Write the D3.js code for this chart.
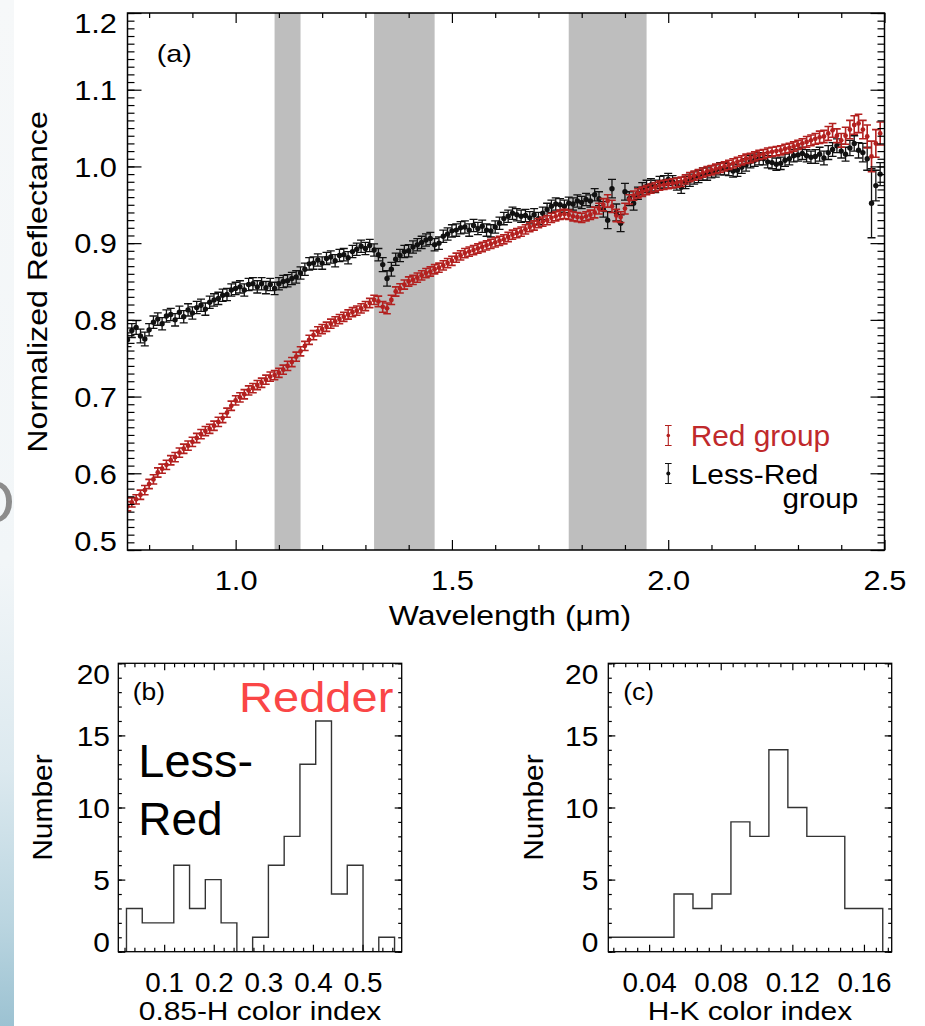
<!DOCTYPE html>
<html><head><meta charset="utf-8">
<script src="https://cdn.jsdelivr.net/npm/d3@7"></script>
<style>body{margin:0;background:#fff} svg{display:block;background:#fff}</style>
</head><body><svg id="c" width="925" height="1026"></svg>
<script>
// ---------- DATA ----------
const wavelength = [
0.75,0.76,0.77,0.78,0.79,
0.80,0.81,0.82,0.83,0.84,0.85,0.86,0.87,0.88,0.89,
0.90,0.91,0.92,0.93,0.94,0.95,0.96,0.97,0.98,0.99,
1.00,1.01,1.02,1.03,1.04,1.05,1.06,1.07,1.08,1.09,
1.10,1.11,1.12,1.13,1.14,1.15,1.16,1.17,1.18,1.19,
1.20,1.21,1.22,1.23,1.24,1.25,1.26,1.27,1.28,1.29,
1.30,1.31,1.32,1.33,1.34,1.35,1.36,1.37,1.38,1.39,
1.40,1.41,1.42,1.43,1.44,1.45,1.46,1.47,1.48,1.49,
1.50,1.51,1.52,1.53,1.54,1.55,1.56,1.57,1.58,1.59,
1.60,1.61,1.62,1.63,1.64,1.65,1.66,1.67,1.68,1.69,
1.70,1.71,1.72,1.73,1.74,1.75,1.76,1.77,1.78,1.79,
1.80,1.81,1.82,1.83,1.84,1.85,1.86,1.87,1.88,1.89,
1.90,1.91,1.92,1.93,1.94,1.95,1.96,1.97,1.98,1.99,
2.00,2.01,2.02,2.03,2.04,2.05,2.06,2.07,2.08,2.09,
2.10,2.11,2.12,2.13,2.14,2.15,2.16,2.17,2.18,2.19,
2.20,2.21,2.22,2.23,2.24,2.25,2.26,2.27,2.28,2.29,
2.30,2.31,2.32,2.33,2.34,2.35,2.36,2.37,2.38,2.39,
2.40,2.41,2.42,2.43,2.44,2.45,2.46,2.47,2.48,2.49];

const redGroup = [
0.557,0.562,0.566,0.572,0.578,
0.586,0.592,0.601,0.606,0.611,0.617,0.621,0.627,0.632,0.636,
0.641,0.646,0.651,0.655,0.658,0.662,0.667,0.672,0.679,0.688,
0.695,0.699,0.703,0.708,0.711,0.715,0.718,0.722,0.726,0.728,
0.731,0.735,0.740,0.745,0.752,0.759,0.766,0.774,0.780,0.785,
0.788,0.791,0.795,0.798,0.801,0.804,0.807,0.810,0.812,0.815,
0.818,0.822,0.826,0.824,0.817,0.815,0.826,0.837,0.841,0.846,
0.850,0.852,0.855,0.858,0.861,0.863,0.866,0.868,0.871,0.874,
0.877,0.881,0.884,0.887,0.889,0.891,0.893,0.895,0.897,0.899,
0.901,0.903,0.905,0.908,0.911,0.913,0.915,0.918,0.921,0.923,
0.926,0.928,0.930,0.933,0.935,0.937,0.938,0.937,0.935,0.934,
0.933,0.935,0.937,0.940,0.945,0.950,0.955,0.948,0.936,0.934,
0.945,0.957,0.962,0.965,0.967,0.969,0.971,0.973,0.975,0.976,
0.977,0.978,0.979,0.980,0.983,0.986,0.988,0.990,0.992,0.994,
0.995,0.997,0.998,1.000,1.002,1.004,1.006,1.008,1.010,1.011,
1.013,1.015,1.016,1.018,1.019,1.020,1.021,1.023,1.024,1.026,
1.028,1.030,1.032,1.034,1.036,1.038,1.039,1.043,1.047,1.040,
1.034,1.040,1.048,1.054,1.056,1.048,1.039,1.013,1.030,1.043];

const redErr = [
0.006,0.006,0.006,0.006,0.006,
0.006,0.006,0.006,0.006,0.006,0.006,0.006,0.006,0.006,0.006,
0.006,0.006,0.006,0.006,0.006,0.006,0.006,0.006,0.006,0.006,
0.006,0.006,0.006,0.006,0.006,0.006,0.006,0.006,0.006,0.006,
0.006,0.006,0.006,0.006,0.006,0.006,0.006,0.006,0.006,0.006,
0.006,0.006,0.006,0.006,0.006,0.006,0.006,0.006,0.006,0.006,
0.006,0.006,0.006,0.007,0.007,0.007,0.006,0.006,0.006,0.006,
0.006,0.006,0.006,0.006,0.006,0.006,0.006,0.006,0.006,0.006,
0.006,0.006,0.006,0.006,0.006,0.006,0.006,0.006,0.006,0.006,
0.006,0.006,0.006,0.006,0.006,0.006,0.006,0.006,0.006,0.006,
0.006,0.006,0.006,0.006,0.006,0.006,0.006,0.006,0.006,0.006,
0.006,0.006,0.006,0.007,0.007,0.008,0.008,0.008,0.008,0.007,
0.007,0.006,0.006,0.006,0.006,0.006,0.006,0.006,0.006,0.006,
0.006,0.006,0.006,0.006,0.006,0.006,0.006,0.006,0.006,0.006,
0.006,0.006,0.006,0.006,0.006,0.006,0.006,0.006,0.006,0.006,
0.006,0.006,0.006,0.006,0.006,0.006,0.006,0.006,0.006,0.006,
0.006,0.006,0.007,0.007,0.007,0.008,0.008,0.009,0.009,0.009,
0.009,0.011,0.012,0.012,0.012,0.012,0.015,0.020,0.018,0.015];

const lessRedGroup = [
0.774,0.786,0.790,0.779,0.775,
0.787,0.797,0.801,0.795,0.805,0.807,0.800,0.810,0.804,0.813,
0.809,0.816,0.819,0.814,0.823,0.826,0.828,0.832,0.833,0.839,
0.841,0.843,0.839,0.846,0.847,0.843,0.847,0.842,0.846,0.841,
0.847,0.850,0.851,0.854,0.856,0.861,0.866,0.873,0.874,0.878,
0.874,0.880,0.882,0.877,0.884,0.885,0.881,0.889,0.892,0.896,
0.893,0.897,0.891,0.885,0.872,0.854,0.866,0.879,0.884,0.889,
0.890,0.895,0.898,0.901,0.904,0.906,0.898,0.900,0.909,0.912,
0.916,0.917,0.920,0.921,0.917,0.923,0.919,0.922,0.917,0.916,
0.921,0.926,0.932,0.935,0.939,0.937,0.935,0.936,0.933,0.937,
0.932,0.939,0.944,0.948,0.951,0.950,0.948,0.952,0.951,0.955,
0.953,0.957,0.955,0.963,0.958,0.944,0.930,0.971,0.940,0.926,
0.967,0.958,0.952,0.965,0.971,0.974,0.976,0.974,0.979,0.980,
0.983,0.980,0.977,0.973,0.979,0.982,0.985,0.987,0.990,0.990,
0.993,0.994,0.997,0.997,0.996,0.994,0.995,0.999,1.002,1.006,
1.008,1.010,1.010,1.006,1.005,1.003,1.004,1.008,1.010,1.014,
1.015,1.017,1.014,1.012,1.013,1.016,1.011,1.018,1.022,1.027,
1.020,1.016,1.024,1.030,1.021,1.018,1.010,0.952,0.975,0.990];

const lessRedErr = [
0.009,0.009,0.009,0.009,0.009,
0.008,0.008,0.008,0.008,0.008,0.008,0.008,0.008,0.008,0.008,
0.008,0.008,0.008,0.008,0.008,0.008,0.008,0.008,0.008,0.008,
0.008,0.008,0.008,0.008,0.008,0.008,0.008,0.008,0.008,0.008,
0.008,0.008,0.008,0.008,0.008,0.008,0.008,0.008,0.008,0.008,
0.008,0.008,0.008,0.008,0.008,0.008,0.008,0.008,0.008,0.008,
0.008,0.008,0.008,0.008,0.009,0.010,0.009,0.008,0.008,0.008,
0.008,0.008,0.008,0.008,0.008,0.008,0.008,0.008,0.008,0.008,
0.008,0.008,0.008,0.008,0.008,0.008,0.008,0.008,0.008,0.008,
0.008,0.008,0.008,0.008,0.008,0.008,0.008,0.008,0.008,0.008,
0.008,0.008,0.008,0.008,0.008,0.008,0.008,0.008,0.008,0.008,
0.008,0.008,0.008,0.008,0.009,0.010,0.011,0.012,0.011,0.011,
0.011,0.009,0.009,0.008,0.008,0.008,0.008,0.008,0.008,0.008,
0.008,0.008,0.008,0.008,0.008,0.008,0.008,0.008,0.008,0.008,
0.008,0.008,0.008,0.008,0.008,0.008,0.008,0.008,0.008,0.008,
0.008,0.008,0.008,0.008,0.008,0.008,0.008,0.008,0.008,0.008,
0.008,0.008,0.008,0.008,0.009,0.009,0.009,0.009,0.009,0.009,
0.009,0.009,0.010,0.010,0.010,0.012,0.015,0.045,0.020,0.015];

const telluricBands = [[1.09, 1.15], [1.32, 1.46], [1.77, 1.95]];

const xTicksA = [1.0, 1.5, 2.0, 2.5];
const xMinorA = [0.8,0.9,1.1,1.2,1.3,1.4,1.6,1.7,1.8,1.9,2.1,2.2,2.3,2.4];
const yTicksA = [0.5, 0.6, 0.7, 0.8, 0.9, 1.0, 1.1, 1.2];

// histogram (b): 0.85-H color index
const binEdgesB = [0.024,0.0558,0.0876,0.1194,0.1512,0.183,0.2148,0.2466,0.2784,0.3102,0.342,0.3738,0.4056,0.4374,0.4692,0.501,0.5328,0.5646];
const countsB   = [3,2,2,6,3,5,2,0,1,6,8,13,16,4,6,0,1];
const xTicksB = [0.1, 0.2, 0.3, 0.4, 0.5];

// histogram (c): H-K color index
const binEdgesC = [0.0115,0.0221,0.0327,0.0433,0.0539,0.0645,0.0751,0.0857,0.0963,0.1069,0.1175,0.1281,0.1387,0.1493,0.1599,0.1705];
const countsC   = [1,1,1,1,4,3,4,9,8,14,10,8,8,3,3];
const xTicksC = [0.04, 0.08, 0.12, 0.16];

const yTicksHist = [0, 5, 10, 15, 20];

// ---------- DRAWING ----------
const FONT = '"Liberation Sans", Arial, Helvetica, sans-serif';
const RED = '#b3201f';
const svg = d3.select('#c').attr('font-family', FONT);
const defs = svg.append('defs');

// left-edge slide background remnant
const lg = defs.append('linearGradient').attr('id','edge').attr('x1',0).attr('y1',0).attr('x2',0).attr('y2',1);
[[0,'#f6f8f9'],[0.55,'#f2f6f8'],[0.75,'#dce9ef'],[0.9,'#bad5e0'],[1,'#9cc2d2']].forEach(([o,c])=>lg.append('stop').attr('offset',o).attr('stop-color',c));
svg.append('rect').attr('x',0).attr('y',0).attr('width',14).attr('height',1026).attr('fill','url(#edge)');
svg.append('text').attr('x',15).attr('y',523).attr('text-anchor','end').attr('font-size',62).attr('fill','#8c8c8c').text('O');

function label(x, y, str, o) {
  const g = svg.append('g').attr('transform',
    `translate(${x},${y})` + (o.rot ? ` rotate(${o.rot})` : '') + ` scale(${o.sx || 1},1)`);
  g.append('text').attr('text-anchor', o.anchor || 'start').attr('font-size', o.size)
    .attr('fill', o.fill || '#000').text(str);
}

function axes(box, x, y, o) {
  const g = svg.append('g');
  const clean = s => s.call(q => q.select('.domain').remove()).selectAll('line').attr('stroke','#000').attr('stroke-width',1.2);
  clean(g.append('g').attr('transform',`translate(0,${box.b})`)
    .call(d3.axisBottom(x).tickValues(o.xMinor).tickSize(-o.xMinLen).tickFormat('')));
  const xb = g.append('g').attr('transform',`translate(0,${box.b})`)
    .call(d3.axisBottom(x).tickValues(o.xMajor).tickSize(-o.xMajLen).tickPadding(o.xPad).tickFormat(o.xFmt));
  clean(xb);
  xb.attr('font-family', FONT).attr('font-size', o.xFont);
  xb.selectAll('text').attr('fill','#000').attr('transform',`scale(${o.xSx},1)`);
  clean(g.append('g').attr('transform',`translate(0,${box.t})`)
    .call(d3.axisTop(x).tickValues(o.xMinor).tickSize(-o.xMinLen).tickFormat('')));
  clean(g.append('g').attr('transform',`translate(0,${box.t})`)
    .call(d3.axisTop(x).tickValues(o.xMajor).tickSize(-o.xMajLen).tickFormat('')));
  clean(g.append('g').attr('transform',`translate(${box.l},0)`)
    .call(d3.axisLeft(y).tickValues(o.yMinor).tickSize(-o.yMinLen).tickFormat('')));
  const yl = g.append('g').attr('transform',`translate(${box.l},0)`)
    .call(d3.axisLeft(y).tickValues(o.yMajor).tickSize(-o.yMajLen).tickFormat(o.yFmt));
  clean(yl);
  yl.attr('font-family', FONT).attr('font-size', o.yFont);
  const [y0, y1] = y.domain();
  yl.selectAll('text').attr('fill','#000').attr('x',0)
    .attr('transform',`translate(${-o.yPad},0) scale(${o.ySx},1)`)
    .attr('dy', d => d === y0 ? '0em' : d === y1 ? '0.71em' : '0.35em');
  clean(g.append('g').attr('transform',`translate(${box.r},0)`)
    .call(d3.axisRight(y).tickValues(o.yMinor).tickSize(-o.yMinLen).tickFormat('')));
  clean(g.append('g').attr('transform',`translate(${box.r},0)`)
    .call(d3.axisRight(y).tickValues(o.yMajor).tickSize(-o.yMajLen).tickFormat('')));
  svg.append('rect').attr('x',box.l).attr('y',box.t).attr('width',box.r-box.l).attr('height',box.b-box.t)
    .attr('fill','none').attr('stroke','#000').attr('stroke-width',o.frameW || 1.4);
}

// ===== Panel (a) =====
const A = {l:127.5, r:884.5, t:13, b:550};
const xA = d3.scaleLinear().domain([0.75, 2.5]).range([A.l, A.r]);
const yA = d3.scaleLinear().domain([0.5, 1.2]).range([A.b, A.t]);

defs.append('clipPath').attr('id','clipA').append('rect')
  .attr('x',A.l).attr('y',A.t).attr('width',A.r-A.l).attr('height',A.b-A.t);

svg.append('g').selectAll('rect').data(telluricBands).join('rect')
  .attr('x', d => xA(d[0])).attr('y', A.t)
  .attr('width', d => xA(d[1]) - xA(d[0])).attr('height', A.b - A.t)
  .attr('fill', '#bebebe');

function errSeries(vals, errs, color, r, cap, sw) {
  const pts = wavelength.map((w, i) => ({w, v: vals[i], e: errs[i]}));
  const g = svg.append('g').attr('clip-path','url(#clipA)');
  g.append('g').attr('stroke', color).attr('stroke-width', sw).attr('fill','none')
    .selectAll('path').data(pts).join('path')
    .attr('d', d => {
      const x = xA(d.w), ya = yA(d.v - d.e), yb = yA(d.v + d.e);
      return `M${x},${ya}V${yb}M${x-cap},${ya}H${x+cap}M${x-cap},${yb}H${x+cap}`;
    });
  g.append('g').attr('fill', color).selectAll('circle').data(pts).join('circle')
    .attr('cx', d => xA(d.w)).attr('cy', d => yA(d.v)).attr('r', r);
}
errSeries(lessRedGroup, lessRedErr, '#111', 2.7, 4, 1.3);
errSeries(redGroup, redErr, RED, 2.4, 3.8, 1.6);

axes(A, xA, yA, {
  xMajor: xTicksA, xMinor: xMinorA, xMajLen: 10, xMinLen: 5, xPad: 20, xFont: 28, xSx: 1.1,
  xFmt: d3.format('.1f'),
  yMajor: yTicksA, yMinor: d3.range(50, 121).map(v => v / 100), yMajLen: 14, yMinLen: 7,
  yPad: 10.5, yFont: 28, ySx: 1.1, yFmt: d3.format('.1f'), frameW: 1.5
});

label(156.7, 62, '(a)', {size: 24, sx: 1.2});
label(510, 625, 'Wavelength (μm)', {size: 28, sx: 1.14, anchor: 'middle'});
label(47, 282, 'Normalized Reflectance', {size: 28, sx: 1.15, anchor: 'middle', rot: -90});

function legendBar(x, yc, color, r) {
  const g = svg.append('g');
  g.append('path').attr('d', `M${x},${yc-10}V${yc+10}M${x-3.3},${yc-10}H${x+3.3}M${x-3.3},${yc+10}H${x+3.3}`)
    .attr('stroke', color).attr('stroke-width', 1.1).attr('fill','none');
  g.append('circle').attr('cx', x).attr('cy', yc).attr('r', r).attr('fill', color);
}
legendBar(668.3, 435.5, RED, 1.8);
legendBar(668.3, 473.5, '#111', 2);
label(690.7, 445.7, 'Red group', {size: 29, sx: 1.03, fill: '#c0292b'});
label(690.7, 484, 'Less-Red', {size: 28, sx: 1.066});
label(858.3, 508, 'group', {size: 28, sx: 1.06, anchor: 'end'});

// ===== Histograms =====
function histPath(edges, counts, x, y) {
  const p = d3.path();
  p.moveTo(x(edges[0]), y(0));
  counts.forEach((c, i) => { p.lineTo(x(edges[i]), y(c)); p.lineTo(x(edges[i+1]), y(c)); });
  p.lineTo(x(edges[edges.length-1]), y(0));
  return p.toString();
}

const B = {l:118.3, r:401.7, t:663.3, b:951.7};
const xB = d3.scaleLinear().domain([0.0075, 0.579]).range([B.l, B.r]);
const yB = d3.scaleLinear().domain([0, 20]).range([B.b, B.t]);
defs.append('clipPath').attr('id','clipB').append('rect').attr('x',B.l).attr('y',B.t).attr('width',B.r-B.l).attr('height',B.b-B.t);
svg.append('path').attr('clip-path','url(#clipB)').attr('d', histPath(binEdgesB, countsB, xB, yB))
  .attr('fill','none').attr('stroke','#333').attr('stroke-width',1.4);
axes(B, xB, yB, {
  xMajor: xTicksB, xMinor: d3.range(1, 29).map(k => k * 0.02).filter(v => Math.abs(v*10 - Math.round(v*10)) > 1e-6),
  xMajLen: 7, xMinLen: 4, xPad: 21.6, xFont: 27, xSx: 1.03, xFmt: d3.format('.1f'),
  yMajor: yTicksHist, yMinor: d3.range(0, 21), yMajLen: 7, yMinLen: 3.5,
  yPad: 8.3, yFont: 28, ySx: 1.07, yFmt: d3.format('d'), frameW: 1.3
});
label(132.7, 700, '(b)', {size: 24, sx: 1.1});
label(393.3, 711.7, 'Redder', {size: 42, sx: 1.12, anchor: 'end', fill: '#fa4646'});
label(138.3, 776.7, 'Less-', {size: 46, sx: 1.02});
label(138.3, 835, 'Red', {size: 46, sx: 1.0});
label(52, 807.5, 'Number', {size: 28, sx: 1.07, anchor: 'middle', rot: -90});
label(260, 1020, '0.85-H color index', {size: 26, sx: 1.15, anchor: 'middle'});

const C = {l:608.3, r:891.7, t:663.3, b:951.7};
const xC = d3.scaleLinear().domain([0.0172, 0.1755]).range([C.l, C.r]);
const yC = d3.scaleLinear().domain([0, 20]).range([C.b, C.t]);
defs.append('clipPath').attr('id','clipC').append('rect').attr('x',C.l).attr('y',C.t).attr('width',C.r-C.l).attr('height',C.b-C.t);
svg.append('path').attr('clip-path','url(#clipC)').attr('d', histPath(binEdgesC, countsC, xC, yC))
  .attr('fill','none').attr('stroke','#333').attr('stroke-width',1.4);
axes(C, xC, yC, {
  xMajor: xTicksC, xMinor: d3.range(3, 27).map(k => k * 0.04 / 6).filter(v => !xTicksC.some(t => Math.abs(t - v) < 1e-6)),
  xMajLen: 7, xMinLen: 4, xPad: 21.6, xFont: 27, xSx: 1.03, xFmt: d3.format('.2f'),
  yMajor: yTicksHist, yMinor: d3.range(0, 21), yMajLen: 7, yMinLen: 3.5,
  yPad: 10, yFont: 28, ySx: 1.07, yFmt: d3.format('d'), frameW: 1.3
});
label(623.3, 700, '(c)', {size: 24, sx: 1.1});
label(543, 807.5, 'Number', {size: 28, sx: 1.07, anchor: 'middle', rot: -90});
label(750, 1020, 'H-K color index', {size: 26, sx: 1.15, anchor: 'middle'});
</script></body></html>
